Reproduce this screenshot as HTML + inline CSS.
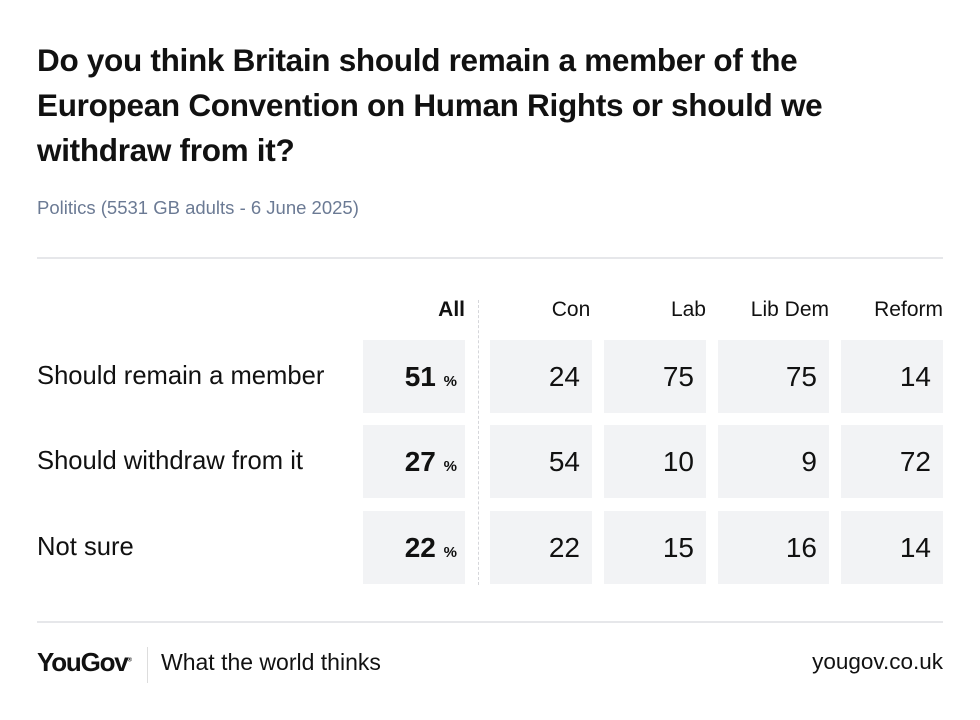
<!DOCTYPE html>
<html><head><style>
body{margin:0;width:980px;height:720px;background:#fff;font-family:"Liberation Sans",sans-serif;position:relative;overflow:hidden;color:#111}
.a{position:absolute}
.t{left:37px;top:38px;width:830px;font-size:31.5px;font-weight:bold;line-height:45px;letter-spacing:-0.3px}
.s{left:37px;top:197px;font-size:18.5px;color:#6b7a94}
.hr{left:37px;width:906px;height:2px;background:#e6e7ea}
.h{top:298px;font-size:21px;text-align:right}
.box{background:#f2f3f5;height:73px}
.v{font-size:28px;text-align:right;line-height:73px;padding-right:12px;box-sizing:border-box}
.l{left:37px;font-size:25.6px;line-height:73px}
</style></head><body>
<div class="a t">Do you think Britain should remain a member of the European Convention on Human Rights or should we withdraw from it?</div>
<div class="a s">Politics (5531 GB adults - 6 June 2025)</div>
<div class="a hr" style="top:257px"></div>
<div class="a h" style="left:363px;width:102px;font-weight:bold">All</div>
<div class="a h" style="left:490px;width:102px;text-align:center;padding-left:60px;box-sizing:border-box">Con</div>
<div class="a h" style="left:604px;width:102px">Lab</div>
<div class="a h" style="left:718px;width:111px">Lib Dem</div>
<div class="a h" style="left:841px;width:102px">Reform</div>
<div class="a" style="left:478px;top:300px;height:285px;border-left:1.5px dashed #d5d6da"></div>

<div class="a l" style="top:340px">Should remain a member</div>
<div class="a l" style="top:425px">Should withdraw from it</div>
<div class="a l" style="top:511px">Not sure</div>

<div class="a box v" style="left:363px;top:340px;width:102px;font-weight:bold;padding-right:8px">51 <span style="font-size:15px">%</span></div>
<div class="a box v" style="left:363px;top:425px;width:102px;font-weight:bold;padding-right:8px">27 <span style="font-size:15px">%</span></div>
<div class="a box v" style="left:363px;top:511px;width:102px;font-weight:bold;padding-right:8px">22 <span style="font-size:15px">%</span></div>

<div class="a box v" style="left:490px;top:340px;width:102px">24</div>
<div class="a box v" style="left:604px;top:340px;width:102px">75</div>
<div class="a box v" style="left:718px;top:340px;width:111px">75</div>
<div class="a box v" style="left:841px;top:340px;width:102px">14</div>

<div class="a box v" style="left:490px;top:425px;width:102px">54</div>
<div class="a box v" style="left:604px;top:425px;width:102px">10</div>
<div class="a box v" style="left:718px;top:425px;width:111px">9</div>
<div class="a box v" style="left:841px;top:425px;width:102px">72</div>

<div class="a box v" style="left:490px;top:511px;width:102px">22</div>
<div class="a box v" style="left:604px;top:511px;width:102px">15</div>
<div class="a box v" style="left:718px;top:511px;width:111px">16</div>
<div class="a box v" style="left:841px;top:511px;width:102px">14</div>

<div class="a hr" style="top:621px"></div>
<div class="a" style="left:37px;top:647px;font-size:26px;font-weight:bold;letter-spacing:-1.2px">YouGov<sup style="font-size:6px">®</sup></div>
<div class="a" style="left:147px;top:647px;width:1px;height:36px;background:#ddd"></div>
<div class="a" style="left:161px;top:649px;font-size:23px">What the world thinks</div>
<div class="a" style="left:700px;top:649px;width:243px;text-align:right;font-size:22.5px">yougov.co.uk</div>
</body></html>
